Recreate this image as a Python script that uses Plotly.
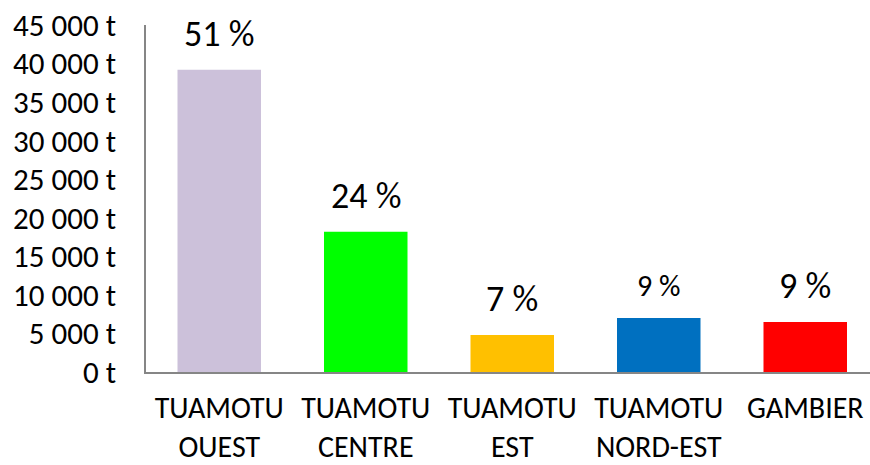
import plotly.graph_objects as go

# data
regions = ["TUAMOTU<br>OUEST", "TUAMOTU<br>CENTRE", "TUAMOTU<br>EST", "TUAMOTU<br>NORD-EST", "GAMBIER"]
tonnes = [39200, 18200, 4800, 7000, 6500]
shares = ["51 %", "24 %", "7 %", "9 %", "9 %"]
share_sizes = [36, 36, 36, 30, 36]
bar_colors = ["#CCC1DA", "#00FF00", "#FFC000", "#0070C0", "#FF0000"]

font = "Carlito, Lato, sans-serif"

fig = go.Figure()
fig.add_trace(go.Bar(x=regions, y=tonnes, marker=dict(color=bar_colors, line=dict(width=0)),
                     width=0.57, hoverinfo="skip"))

# percentage labels above each bar
for r, v, s, fs in zip(regions, tonnes, shares, share_sizes):
    fig.add_annotation(x=r, y=v, text=s, showarrow=False, yanchor="bottom", yshift=12,
                       font=dict(size=fs, color="#000000", family=font))

fig.update_layout(
    width=870, height=465,
    margin=dict(l=146, r=0, t=25, b=93),
    plot_bgcolor="white", paper_bgcolor="white",
    separators=", ",
    showlegend=False,
    font=dict(family=font, color="#000000"),
)
fig.update_xaxes(range=[-0.5, 4.442], showline=True, linecolor="#868686", linewidth=1.5,
                 showgrid=False, ticks="", tickfont=dict(size=30), ticklabelstandoff=8,
                 automargin=False)
fig.update_yaxes(range=[0, 45000], dtick=5000, tickformat=",", ticksuffix=" t",
                 showline=True, linecolor="#868686", linewidth=1.5, showgrid=False,
                 zeroline=False, ticks="", tickfont=dict(size=31), ticklabelstandoff=22,
                 automargin=False)

# the browser's default 8px body margin would shift the whole figure
fig.write_html("out.html", config={"displayModeBar": False},
               post_script="document.body.style.margin='0';")
